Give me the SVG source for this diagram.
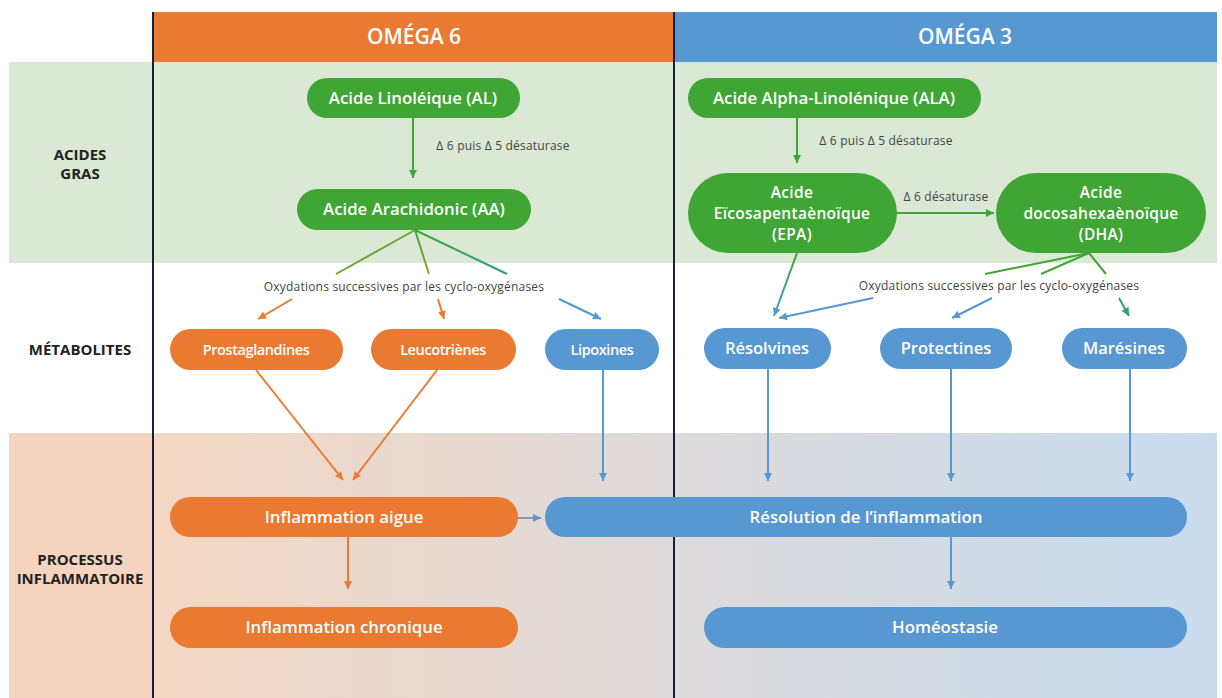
<svg xmlns="http://www.w3.org/2000/svg" width="1222" height="698" viewBox="0 0 1222 698">
<defs>
<style>
.hdr{font-family:"Open Sans","Liberation Sans",sans-serif;font-weight:600;font-size:21px;fill:#fff;text-anchor:middle}
.side{font-family:"Open Sans","Liberation Sans",sans-serif;font-weight:700;font-size:15px;fill:#222;text-anchor:middle}
.nt{font-family:"Open Sans","Liberation Sans",sans-serif;font-weight:600;font-size:16.8px;fill:#fff;text-anchor:middle}
.n3{font-family:"Open Sans","Liberation Sans",sans-serif;font-weight:600;font-size:15.5px;fill:#fff;text-anchor:middle;letter-spacing:0.3px}
.mt{font-family:"Open Sans","Liberation Sans",sans-serif;font-weight:600;font-size:14.5px;fill:#fff;text-anchor:middle;letter-spacing:-0.4px}
.mr{font-family:"Open Sans","Liberation Sans",sans-serif;font-weight:600;font-size:16.5px;fill:#fff;text-anchor:middle}
.lbl{font-family:"Open Sans","Liberation Sans",sans-serif;font-size:12px;fill:#444;text-anchor:middle;letter-spacing:0.2px}
.green{fill:#3FA535}
.orange{fill:#EA7A31}
.blue{fill:#5798D3}
.ln{stroke-width:2;fill:none}
</style>
<marker id="ag" viewBox="0 0 10 10" refX="10" refY="5" markerWidth="9" markerHeight="8" markerUnits="userSpaceOnUse" orient="auto"><path d="M0,0 L10,5 L0,10 z" fill="#3FA535"/></marker>
<marker id="ao" viewBox="0 0 10 10" refX="10" refY="5" markerWidth="9" markerHeight="8" markerUnits="userSpaceOnUse" orient="auto"><path d="M0,0 L10,5 L0,10 z" fill="#EA7A31"/></marker>
<marker id="ab" viewBox="0 0 10 10" refX="10" refY="5" markerWidth="9" markerHeight="8" markerUnits="userSpaceOnUse" orient="auto"><path d="M0,0 L10,5 L0,10 z" fill="#5798D3"/></marker>
<marker id="at" viewBox="0 0 10 10" refX="10" refY="5" markerWidth="9" markerHeight="8" markerUnits="userSpaceOnUse" orient="auto"><path d="M0,0 L10,5 L0,10 z" fill="#2E9E6E"/></marker>
<linearGradient id="proc" x1="154" y1="0" x2="1217" y2="0" gradientUnits="userSpaceOnUse">
<stop offset="0" stop-color="#F4D7C3"/><stop offset="0.5" stop-color="#DDDADB"/><stop offset="1" stop-color="#C9DCEE"/>
</linearGradient>
<linearGradient id="g1" x1="0" y1="0" x2="1" y2="1"><stop offset="0" stop-color="#3FA535"/><stop offset="1" stop-color="#9AA52C"/></linearGradient>
<linearGradient id="g3" x1="0" y1="0" x2="1" y2="1"><stop offset="0" stop-color="#3FA535"/><stop offset="1" stop-color="#2E9E7A"/></linearGradient>
<linearGradient id="g4" x1="1" y1="0" x2="0" y2="1"><stop offset="0" stop-color="#3FA535"/><stop offset="1" stop-color="#4A96C8"/></linearGradient>
</defs>

<g id="background">
<rect x="0" y="0" width="1222" height="698" fill="#fff"/>
<rect x="9" y="62" width="1208" height="201" fill="#DAE8D5"/>
<rect x="9" y="433" width="145" height="265" fill="#F5D4C0"/>
<rect x="154" y="433" width="1063" height="265" fill="url(#proc)"/>
<rect x="154" y="12" width="520" height="50" fill="#EA7A31"/>
<rect x="675" y="12" width="542" height="50" fill="#5798D3"/>
<line x1="153" y1="12" x2="153" y2="698" stroke="#1B1F3B" stroke-width="2"/>
<line x1="674" y1="12" x2="674" y2="698" stroke="#1B1F3B" stroke-width="2"/>
</g>

<g id="headers">
<text class="hdr" x="414" y="44">OMÉGA 6</text>
<text class="hdr" x="965" y="44">OMÉGA 3</text>
<text class="side" x="80" y="160">ACIDES</text>
<text class="side" x="80" y="179">GRAS</text>
<text class="side" x="80" y="355">MÉTABOLITES</text>
<text class="side" x="80" y="565">PROCESSUS</text>
<text class="side" x="80" y="584">INFLAMMATOIRE</text>
</g>

<g id="connectors">
<line class="ln" x1="413" y1="118" x2="413" y2="178" stroke="#3FA535" marker-end="url(#ag)"/>
<line class="ln" x1="797" y1="118" x2="797" y2="163" stroke="#3FA535" marker-end="url(#ag)"/>
<line class="ln" x1="897" y1="213" x2="994" y2="213" stroke="#3FA535" marker-end="url(#ag)"/>
<line x1="415" y1="230" x2="336" y2="274" stroke="url(#g1)" stroke-width="2"/>
<line x1="415" y1="230" x2="429" y2="274" stroke="url(#g1)" stroke-width="2"/>
<line x1="415" y1="230" x2="507" y2="274" stroke="url(#g3)" stroke-width="2"/>
<line class="ln" x1="292" y1="299" x2="258" y2="319" stroke="#EA7A31" marker-end="url(#ao)"/>
<line class="ln" x1="438" y1="299" x2="444" y2="319" stroke="#EA7A31" marker-end="url(#ao)"/>
<line class="ln" x1="559" y1="299" x2="601" y2="319" stroke="#5798D3" marker-end="url(#ab)"/>
<line x1="797" y1="253" x2="774" y2="316" stroke="url(#g4)" stroke-width="2" marker-end="url(#ab)"/>
<line class="ln" x1="1089" y1="253" x2="985" y2="274" stroke="#3FA535"/>
<line class="ln" x1="1089" y1="253" x2="1041" y2="274" stroke="#3FA535"/>
<line class="ln" x1="1089" y1="253" x2="1106" y2="274" stroke="#3FA535"/>
<line class="ln" x1="873" y1="298" x2="779" y2="318" stroke="#5798D3" marker-end="url(#ab)"/>
<line class="ln" x1="992" y1="298" x2="952" y2="318" stroke="#5798D3" marker-end="url(#ab)"/>
<line class="ln" x1="1119" y1="298" x2="1129" y2="316" stroke="#2E9E6E" marker-end="url(#at)"/>
<line class="ln" x1="256" y1="370" x2="343" y2="480" stroke="#EA7A31" marker-end="url(#ao)"/>
<line class="ln" x1="437" y1="370" x2="353" y2="480" stroke="#EA7A31" marker-end="url(#ao)"/>
<line class="ln" x1="603" y1="370" x2="603" y2="481" stroke="#5798D3" marker-end="url(#ab)"/>
<line class="ln" x1="768" y1="369" x2="768" y2="481" stroke="#5798D3" marker-end="url(#ab)"/>
<line class="ln" x1="951" y1="369" x2="951" y2="481" stroke="#5798D3" marker-end="url(#ab)"/>
<line class="ln" x1="1130" y1="369" x2="1130" y2="481" stroke="#5798D3" marker-end="url(#ab)"/>
<line class="ln" x1="348" y1="537" x2="348" y2="589" stroke="#EA7A31" marker-end="url(#ao)"/>
<line class="ln" x1="951" y1="537" x2="951" y2="589" stroke="#5798D3" marker-end="url(#ab)"/>
<line class="ln" x1="518" y1="518" x2="541" y2="518" stroke="#8C97AA" marker-end="url(#ab)"/>
<text class="lbl" x="503" y="150">Δ 6 puis Δ 5 désaturase</text>
<text class="lbl" x="886" y="145">Δ 6 puis Δ 5 désaturase</text>
<text class="lbl" x="946" y="201">Δ 6 désaturase</text>
<text class="lbl" x="404" y="291">Oxydations successives par les cyclo-oxygénases</text>
<text class="lbl" x="999" y="290">Oxydations successives par les cyclo-oxygénases</text>
</g>

<g id="node-al"><rect class="green" x="307" y="78" width="213" height="40" rx="20"/><text class="nt" x="413" y="104">Acide Linoléique (AL)</text></g>
<g id="node-aa"><rect class="green" x="297" y="189" width="234" height="41" rx="20.5"/><text class="nt" x="414" y="215">Acide Arachidonic (AA)</text></g>
<g id="node-ala"><rect class="green" x="688" y="78" width="293" height="40" rx="20"/><text class="nt" x="834" y="104">Acide Alpha-Linolénique (ALA)</text></g>
<g id="node-epa"><rect class="green" x="688" y="173" width="209" height="80" rx="40"/><text class="n3" x="792" y="197.5">Acide</text><text class="n3" x="792" y="218.8">Eïcosapentaènoïque</text><text class="n3" x="792" y="240.1">(EPA)</text></g>
<g id="node-dha"><rect class="green" x="996" y="173" width="210" height="80" rx="40"/><text class="n3" x="1101" y="197.5">Acide</text><text class="n3" x="1101" y="218.8">docosahexaènoïque</text><text class="n3" x="1101" y="240.1">(DHA)</text></g>

<g id="node-prostaglandines"><rect class="orange" x="170" y="329" width="173" height="41" rx="20.5"/><text class="mt" x="256" y="355">Prostaglandines</text></g>
<g id="node-leucotrienes"><rect class="orange" x="371" y="329" width="145" height="41" rx="20.5"/><text class="mt" x="443" y="355">Leucotriènes</text></g>
<g id="node-lipoxines"><rect class="blue" x="545" y="329" width="114" height="41" rx="20.5"/><text class="mt" x="602" y="355">Lipoxines</text></g>
<g id="node-resolvines"><rect class="blue" x="704" y="328" width="127" height="41" rx="20.5"/><text class="mr" x="767" y="354">Résolvines</text></g>
<g id="node-protectines"><rect class="blue" x="880" y="328" width="132" height="41" rx="20.5"/><text class="mr" x="946" y="354">Protectines</text></g>
<g id="node-maresines"><rect class="blue" x="1062" y="328" width="125" height="41" rx="20.5"/><text class="mr" x="1124" y="354">Marésines</text></g>

<g id="node-aigue"><rect class="orange" x="170" y="497" width="348" height="40" rx="20"/><text class="nt" x="344" y="523">Inflammation aigue</text></g>
<g id="node-resolution"><rect class="blue" x="545" y="497" width="642" height="40" rx="20"/><text class="nt" x="866" y="523">Résolution de l’inflammation</text></g>
<g id="node-chronique"><rect class="orange" x="170" y="607" width="348" height="41" rx="20.5"/><text class="nt" x="344" y="633">Inflammation chronique</text></g>
<g id="node-homeostasie"><rect class="blue" x="704" y="607" width="483" height="41" rx="20.5"/><text class="nt" x="945" y="633">Homéostasie</text></g>
</svg>
